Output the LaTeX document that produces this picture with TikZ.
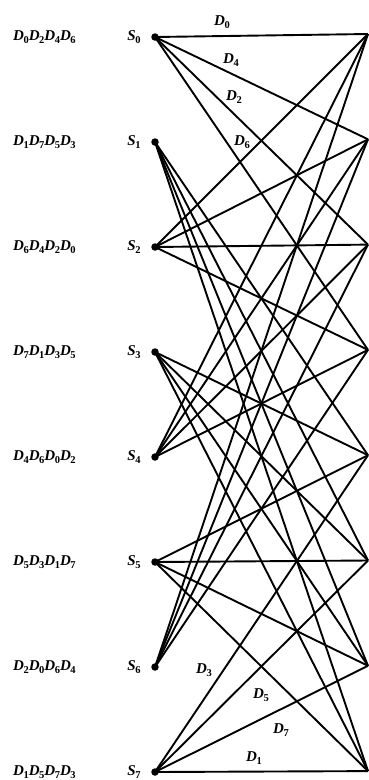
\documentclass[tikz,border=0pt]{standalone}
\usepackage{fontspec}
\setmainfont{Liberation Serif}
\newcommand\Dk[1]{\textbf{\textit{D}}\kern-0.03em\raisebox{-0.45ex}{\fontsize{10.5}{10.5}\selectfont\bfseries #1}}
\newcommand\Sk[1]{\textbf{\textit{S}}\kern-0.02em\raisebox{-0.45ex}{\fontsize{10.5}{10.5}\selectfont\bfseries #1}}
\begin{document}
\begin{tikzpicture}[x=1pt,y=-1pt,
  dotnode/.style={circle,fill=black,inner sep=0pt,minimum size=7.5pt},
  edge/.style={line width=1.9pt},
  seqlabel/.style={anchor=west,inner sep=0pt,font=\fontsize{15}{15}\selectfont},
  statelabel/.style={inner sep=0pt,font=\fontsize{15}{15}\selectfont},
  elabel/.style={inner sep=0pt,font=\fontsize{15}{15}\selectfont}]
\useasboundingbox (0,0) rectangle (369,780);
\foreach \i in {0,...,7}{
  \pgfmathsetmacro{\yl}{37+105*\i}
  \pgfmathsetmacro{\yr}{34+105.3*\i}
  \node[dotnode] (L\i) at (155,\yl) {};
  \coordinate (R\i) at (368,\yr);
  \node[statelabel] (S\i) at (134,\yl) {\Sk{\i}};
}
\foreach \i in {0,2,4,6}{
  \foreach \j in {0,1,2,3}{
    \draw[edge] (L\i.center) -- (R\j);
  }
}
\foreach \i in {1,3,5,7}{
  \foreach \j in {4,5,6,7}{
    \draw[edge] (L\i.center) -- (R\j);
  }
}
\node[seqlabel] (q0) at (13,37) {\Dk{0}\Dk{2}\Dk{4}\Dk{6}};
\node[seqlabel] (q1) at (13,142) {\Dk{1}\Dk{7}\Dk{5}\Dk{3}};
\node[seqlabel] (q2) at (13,247) {\Dk{6}\Dk{4}\Dk{2}\Dk{0}};
\node[seqlabel] (q3) at (13,352) {\Dk{7}\Dk{1}\Dk{3}\Dk{5}};
\node[seqlabel] (q4) at (13,457) {\Dk{4}\Dk{6}\Dk{0}\Dk{2}};
\node[seqlabel] (q5) at (13,562) {\Dk{5}\Dk{3}\Dk{1}\Dk{7}};
\node[seqlabel] (q6) at (13,667) {\Dk{2}\Dk{0}\Dk{6}\Dk{4}};
\node[seqlabel] (q7) at (13,772) {\Dk{1}\Dk{5}\Dk{7}\Dk{3}};
\node[elabel] (e0) at (222,22) {\Dk{0}};
\node[elabel] (e4) at (231,60) {\Dk{4}};
\node[elabel] (e2) at (234,97) {\Dk{2}};
\node[elabel] (e6) at (242,142) {\Dk{6}};
\node[elabel] (e3) at (204,670) {\Dk{3}};
\node[elabel] (e5) at (261,695) {\Dk{5}};
\node[elabel] (e7) at (281,730) {\Dk{7}};
\node[elabel] (e1) at (254,758) {\Dk{1}};
\end{tikzpicture}
\end{document}
